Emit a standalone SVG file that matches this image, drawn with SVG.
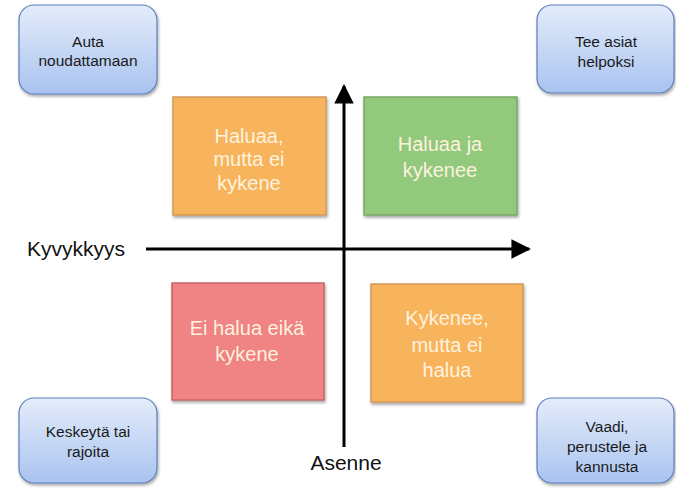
<svg xmlns="http://www.w3.org/2000/svg" width="676" height="489" viewBox="0 0 676 489">
<defs>
<linearGradient id="blueGrad" x1="0" y1="0" x2="0" y2="1">
<stop offset="0" stop-color="#e4ecfa"/>
<stop offset="1" stop-color="#a9c3f0"/>
</linearGradient>
<filter id="shadow" x="-10%" y="-10%" width="125%" height="125%">
<feDropShadow dx="1" dy="2" stdDeviation="1.5" flood-color="#000" flood-opacity="0.35"/>
</filter>
<marker id="arrow" viewBox="0 0 10 10" refX="9" refY="5" markerWidth="6.5" markerHeight="6.5" markerUnits="strokeWidth" orient="auto">
<path d="M0,0 L10,5 L0,10 z" fill="#000"/>
</marker>
</defs>
<style>
.blue{fill:url(#blueGrad);stroke:#5d7fbd;stroke-width:1.2;filter:url(#shadow)}
.bt{font-family:"Liberation Sans",Arial,sans-serif;font-size:15.5px;fill:#1a1a1a;text-anchor:middle}
.q{stroke-width:1.5;filter:url(#shadow)}
.qt{font-family:"Liberation Sans",Arial,sans-serif;font-size:20px;fill:#fdf2df;text-anchor:middle}
.lbl{font-family:"Liberation Sans",Arial,sans-serif;font-size:21px;fill:#111}
</style>
<g id="connectors">
<line x1="344" y1="447" x2="344" y2="86" stroke="#000" stroke-width="3" marker-end="url(#arrow)"/>
<line x1="146" y1="249" x2="529" y2="249" stroke="#000" stroke-width="3" marker-end="url(#arrow)"/>
</g>
<g id="auta">
<rect class="blue" x="19" y="5" width="138" height="89" rx="15"/>
<text class="bt" x="88" y="47">Auta</text>
<text class="bt" x="88" y="66">noudattamaan</text>
</g>
<g id="tee">
<rect class="blue" x="537" y="5" width="137" height="88" rx="15"/>
<text class="bt" x="606" y="47">Tee asiat</text>
<text class="bt" x="606" y="67">helpoksi</text>
</g>
<g id="keskeyta">
<rect class="blue" x="19" y="398" width="138" height="85" rx="15"/>
<text class="bt" x="88" y="437">Keskeytä tai</text>
<text class="bt" x="88" y="457">rajoita</text>
</g>
<g id="vaadi">
<rect class="blue" x="537" y="398" width="137" height="85" rx="15"/>
<text class="bt" x="607" y="432">Vaadi,</text>
<text class="bt" x="607" y="452">perustele ja</text>
<text class="bt" x="607" y="472">kannusta</text>
</g>
<g id="haluaa-ei-kykene">
<rect class="q" x="173" y="97" width="153" height="118" fill="#f8b45c" stroke="#d3995a"/>
<text class="qt" x="249" y="143">Haluaa,</text>
<text class="qt" x="249" y="166">mutta ei</text>
<text class="qt" x="249" y="190">kykene</text>
</g>
<g id="haluaa-ja-kykenee">
<rect class="q" x="364" y="97" width="153" height="118" fill="#92c97b" stroke="#78a866"/>
<text class="qt" x="440" y="151">Haluaa ja</text>
<text class="qt" x="440" y="177">kykenee</text>
</g>
<g id="ei-halua">
<rect class="q" x="172" y="283" width="152" height="117" fill="#f08383" stroke="#c66666"/>
<text class="qt" x="247" y="335">Ei halua eikä</text>
<text class="qt" x="247" y="361">kykene</text>
</g>
<g id="kykenee-ei-halua">
<rect class="q" x="371" y="284" width="152" height="118" fill="#f8b45c" stroke="#d3995a"/>
<text class="qt" x="447" y="325">Kykenee,</text>
<text class="qt" x="447" y="352">mutta ei</text>
<text class="qt" x="447" y="377">halua</text>
</g>
<g id="kyvykkyys">
<text class="lbl" x="27" y="256">Kyvykkyys</text>
</g>
<g id="asenne">
<text class="lbl" x="346" y="470" text-anchor="middle">Asenne</text>
</g>
</svg>
